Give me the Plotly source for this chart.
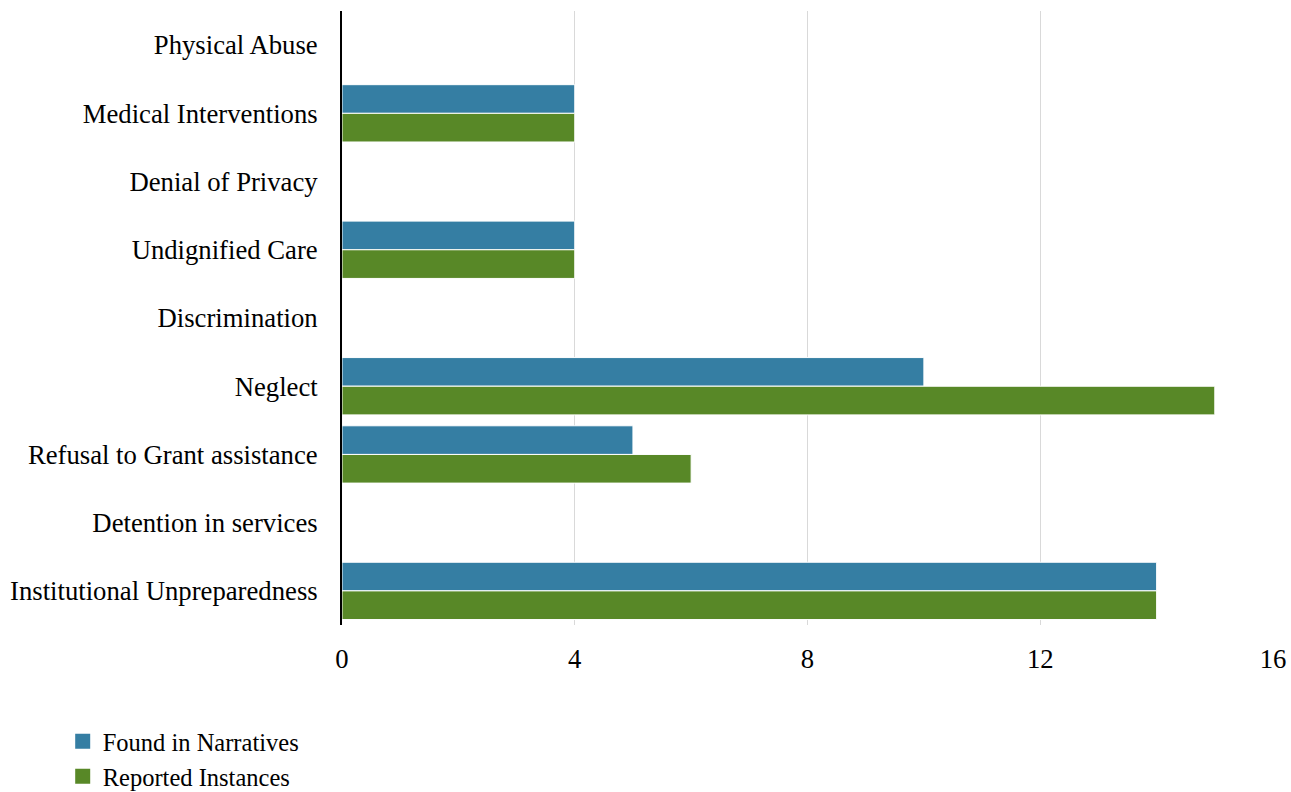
import plotly.graph_objects as go

categories = ["Physical Abuse", "Medical Interventions", "Denial of Privacy", "Undignified Care",
              "Discrimination", "Neglect", "Refusal to Grant assistance", "Detention in services",
              "Institutional Unpreparedness"]
found = [0, 4, 0, 4, 0, 10, 5, 0, 14]
reported = [0, 4, 0, 4, 0, 15, 6, 0, 14]
x_ticks = [0, 4, 8, 12, 16]

BLUE = "#357ea3"
GREEN = "#588827"

fig = go.Figure()
fig.add_trace(go.Bar(y=categories, x=found, orientation="h", name="Found in Narratives",
                     marker=dict(color=BLUE, line=dict(color="white", width=1)), showlegend=False))
fig.add_trace(go.Bar(y=categories, x=reported, orientation="h", name="Reported Instances",
                     marker=dict(color=GREEN, line=dict(color="white", width=1)), showlegend=False))
# legend entries with larger square symbols
fig.add_trace(go.Scatter(x=[None], y=[None], mode="markers", name="Found in Narratives",
                         marker=dict(symbol="square", size=15, color=BLUE)))
fig.add_trace(go.Scatter(x=[None], y=[None], mode="markers", name="Reported Instances",
                         marker=dict(symbol="square", size=15, color=GREEN)))

fig.update_layout(
    width=1291, height=792,
    margin=dict(l=342, r=18, t=11, b=167, autoexpand=False),
    paper_bgcolor="white", plot_bgcolor="white",
    font=dict(family="Liberation Serif, Times New Roman, serif", size=26.7, color="black"),
    barmode="group", bargap=0.16, bargroupgap=0,
    legend=dict(x=-0.3, y=-0.153, xanchor="left", yanchor="top", orientation="v",
                font=dict(size=24.5), itemwidth=30, tracegroupgap=0),
    showlegend=True,
)
fig.update_xaxes(range=[0, 16], tickvals=x_ticks, showgrid=True, gridcolor="#d9d9d9", gridwidth=1,
                 zeroline=False, showline=False, ticks="", ticklabelstandoff=15, automargin=False)
fig.update_yaxes(autorange="reversed", showline=True, linecolor="black", linewidth=2,
                 ticks="", ticklabelstandoff=17, showgrid=False, automargin=False)

fig.write_html("out.html", config={"displayModeBar": False},
               post_script="document.body.style.margin='0';document.body.style.overflow='hidden';")
